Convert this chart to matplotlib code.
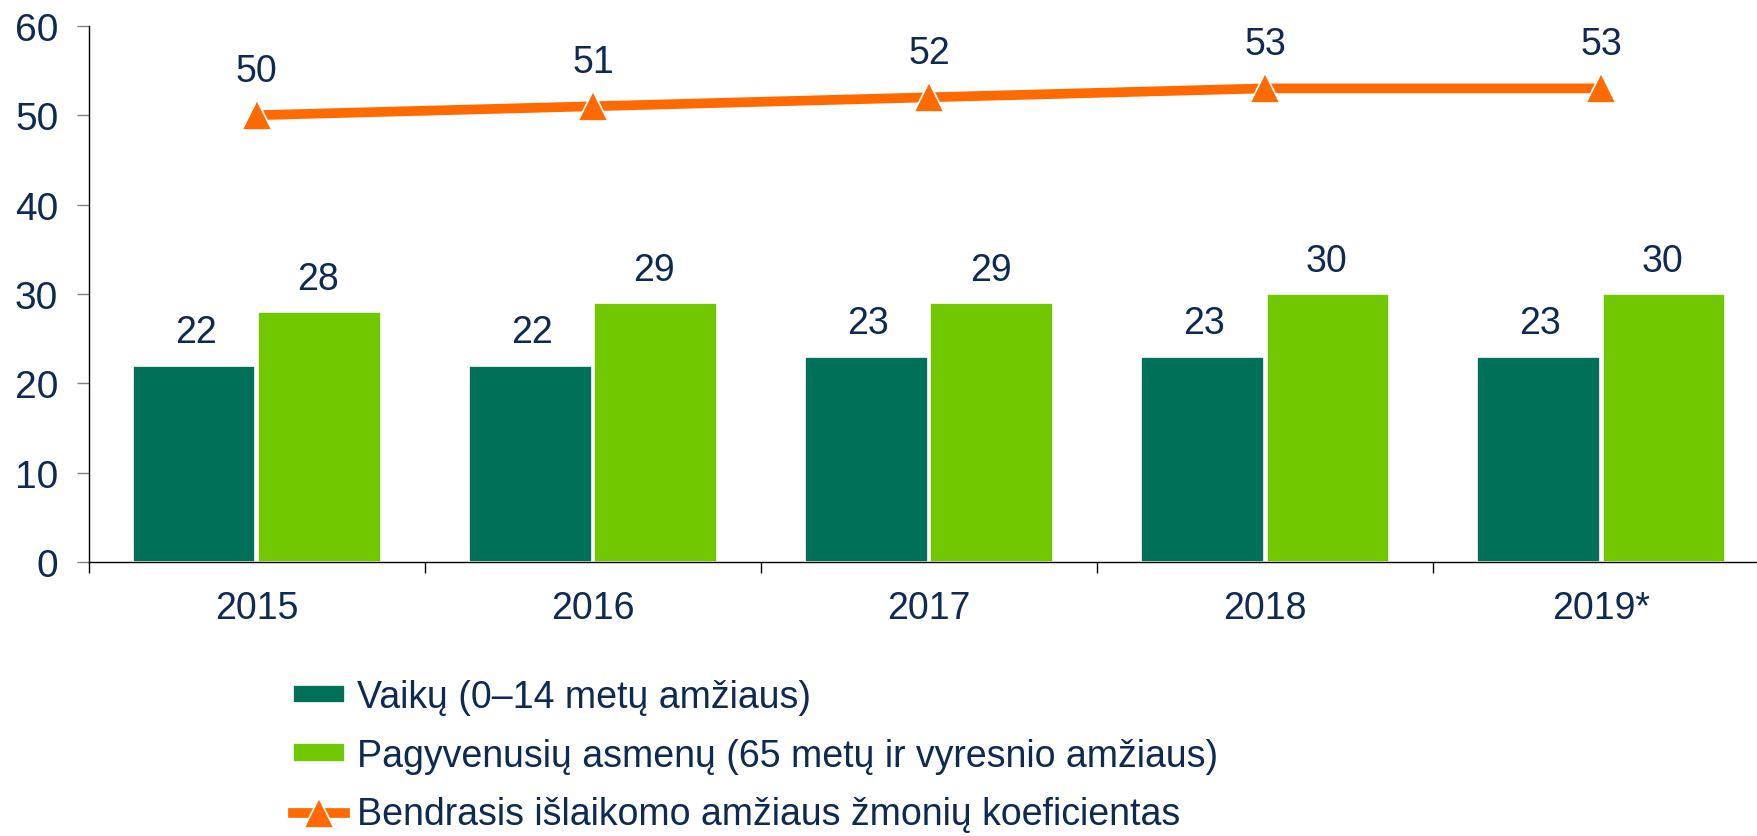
import numpy as np
import matplotlib
matplotlib.use("Agg")
import matplotlib.pyplot as plt

years = ["2015", "2016", "2017", "2018", "2019*"]
vaiku = [22, 22, 23, 23, 23]
pagyvenusiu = [28, 29, 29, 30, 30]
bendrasis = [50, 51, 52, 53, 53]

label_vaiku = "Vaikų (0–14 metų amžiaus)"
label_pagyv = "Pagyvenusių asmenų (65 metų ir vyresnio amžiaus)"
label_bendr = "Bendrasis išlaikomo amžiaus žmonių koeficientas"

DARK = "#007058"
LIGHT = "#72C800"
ORANGE = "#FF6A00"
TEXT = "#0E2A52"

plt.rcParams['font.family'] = ['Liberation Sans', 'DejaVu Sans']

fig = plt.figure(figsize=(17.58, 8.37), dpi=100)
ax = fig.add_axes([0.0505, 0.327, 0.956, 0.641])

x = np.arange(len(years))
w = 0.365
b1 = ax.bar(x - w / 2 - 0.004, vaiku, w, color=DARK, edgecolor="white", linewidth=1.2,
            label=label_vaiku, zorder=2)
b2 = ax.bar(x + w / 2 + 0.004, pagyvenusiu, w, color=LIGHT, edgecolor="white", linewidth=1.2,
            label=label_pagyv, zorder=2)
ln, = ax.plot(x, bendrasis, color=ORANGE, linewidth=7, marker="^", markersize=22,
              markeredgecolor="white", markeredgewidth=1.2, label=label_bendr, zorder=3)

for i in range(len(years)):
    ax.annotate(str(vaiku[i]), (x[i] - w / 2, vaiku[i]), xytext=(0, 24),
                textcoords="offset points", ha="center", va="center",
                fontsize=27, color=TEXT)
    ax.annotate(str(pagyvenusiu[i]), (x[i] + w / 2, pagyvenusiu[i]), xytext=(0, 24),
                textcoords="offset points", ha="center", va="center",
                fontsize=27, color=TEXT)
    ax.annotate(str(bendrasis[i]), (x[i], bendrasis[i]), xytext=(0, 32),
                textcoords="offset points", ha="center", va="center",
                fontsize=27, color=TEXT)

ax.set_ylim(0, 60)
ax.set_yticks(range(0, 61, 10))
ax.set_xlim(-0.5, 4.5)
ax.set_xticks(x)
ax.set_xticklabels(years)
ax.set_xticks(np.arange(-0.5, 4.6, 1.0), minor=True)
ax.tick_params(axis="x", which="major", length=0, pad=20, labelsize=27, labelcolor=TEXT)
ax.tick_params(axis="x", which="minor", length=8, width=1, color="black", direction="out")
ax.tick_params(axis="y", length=9, width=1, color="#808080", pad=13, labelsize=28, labelcolor=TEXT)

for s in ["top", "right"]:
    ax.spines[s].set_visible(False)
ax.spines["left"].set_linewidth(1)
ax.spines["bottom"].set_linewidth(1)

fig.legend(handles=[b1, b2, ln], loc="upper left", bbox_to_anchor=(0.158, 0.205),
           frameon=False, prop={"size": 27},
           labelcolor=TEXT, handlelength=1.4, handleheight=0.4, handletextpad=0.3,
           labelspacing=0.6, borderaxespad=0)

fig.savefig("out.png", dpi=100)
